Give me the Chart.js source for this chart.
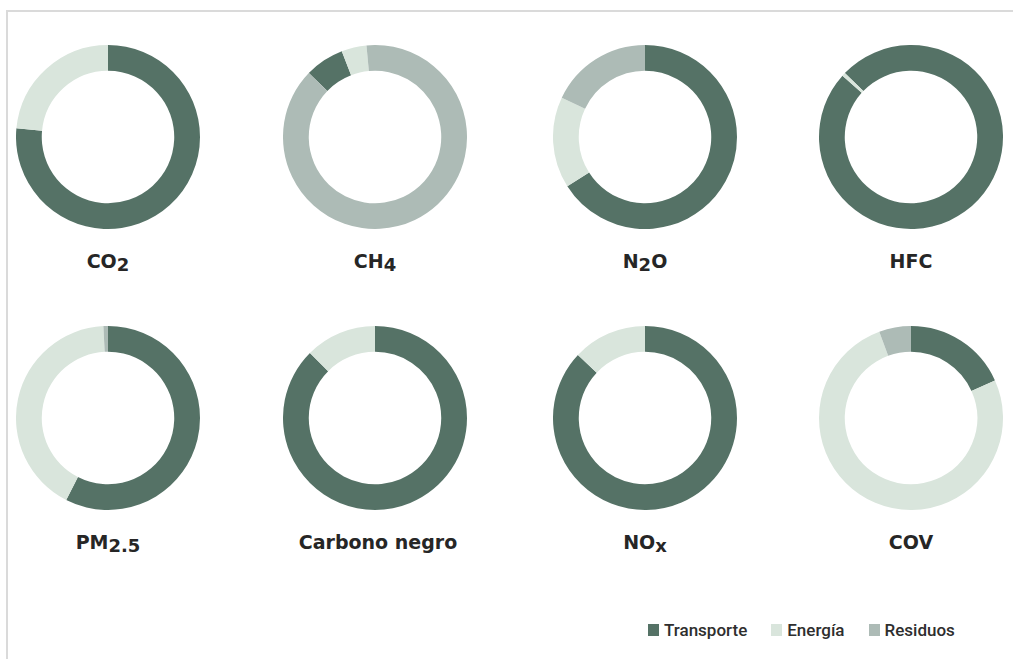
<!DOCTYPE html>
<html>
<head>
<meta charset="utf-8">
<script src="https://cdn.jsdelivr.net/npm/chart.js@4.4.1/dist/chart.umd.min.js"></script>
<style>
    html, body { margin: 0; padding: 0; background: #fff; overflow: hidden; }
    body { width: 1013px; height: 659px; position: relative; font-family: "DejaVu Sans", sans-serif; }
    .frame { position: absolute; left: 6px; top: 10px; width: 1020px; height: 660px; border-top: 2px solid #dadada; border-left: 2px solid #dadada; }
    .donut { position: absolute; }
    .gas-label { position: absolute; width: 240px; text-align: center; font-weight: bold; font-size: 19px; color: #262626; line-height: 20px; white-space: nowrap; }
    .gas-label .sub { position: relative; top: 3px; font-size: 18px; }
    .legend { position: absolute; top: 620px; left: 648px; display: flex; align-items: center; font-family: Roboto, sans-serif; font-weight: 500; font-size: 17px; color: #2e2e2e; }
    .legend .item { display: flex; align-items: center; margin-right: 24px; }
    .legend .box { width: 11px; height: 12px; margin-right: 5px; }
</style>
</head>
<body>
<div class="frame"></div>
<div id="charts"></div>
<div class="legend" id="legend"></div>

<script>
// Gas names (digits / trailing x are shown lowered)
const gases = ['CO2', 'CH4', 'N2O', 'HFC', 'PM2.5', 'Carbono negro', 'NOx', 'COV'];

// Series (% share of each gas by sector)
const seriesLabels = ['Transporte', 'Energía', 'Residuos'];
const transporte = [76.5, 6.9, 66, 99.4, 57.5, 87.5, 87, 18.3];
const energia = [23.5, 4.4, 16, 0.6, 41.7, 12.5, 13, 76.1];
const residuos = [0, 88.7, 18, 0, 0.8, 0, 0, 5.6];

// Start angle of each ring (degrees)
const rotations = [0, -46, 0, -46, 0, 0, 0, 0];

const COLORS = ['#557266', '#d9e5dc', '#adbbb6'];

// Grid layout
const colX = [108, 375, 645, 911];
const rowY = [137, 418];
const RADIUS = 92;
const LABEL_OFFSET = 114;

const container = document.getElementById('charts');

function labelMarkup(name) {
    return name.replace(/(\d+(\.\d+)?|x$)/g, '<span class="sub">$1</span>');
}

gases.forEach((gas, i) => {
    const cx = colX[i % 4];
    const cy = rowY[Math.floor(i / 4)];

    const canvas = document.createElement('canvas');
    canvas.className = 'donut';
    canvas.width = RADIUS * 2;
    canvas.height = RADIUS * 2;
    canvas.style.left = (cx - RADIUS) + 'px';
    canvas.style.top = (cy - RADIUS) + 'px';
    container.appendChild(canvas);

    new Chart(canvas.getContext('2d'), {
        type: 'doughnut',
        data: {
            labels: seriesLabels,
            datasets: [{
                data: [transporte[i], energia[i], residuos[i]],
                backgroundColor: COLORS,
                borderWidth: 0,
            }]
        },
        options: {
            responsive: false,
            animation: false,
            cutout: '72%',
            rotation: rotations[i],
            layout: { padding: 0 },
            plugins: {
                legend: { display: false },
                tooltip: { enabled: false },
            }
        }
    });

    const label = document.createElement('div');
    label.className = 'gas-label';
    label.style.left = (cx - 120 + (i === 5 ? 3 : 0)) + 'px';
    label.style.top = (cy + LABEL_OFFSET) + 'px';
    label.innerHTML = labelMarkup(gas);
    container.appendChild(label);
});

// Shared legend
const legend = document.getElementById('legend');
seriesLabels.forEach((name, i) => {
    const item = document.createElement('div');
    item.className = 'item';
    item.innerHTML = `<span class="box" style="background:${COLORS[i]}"></span><span>${name}</span>`;
    legend.appendChild(item);
});
</script>
</body>
</html>
